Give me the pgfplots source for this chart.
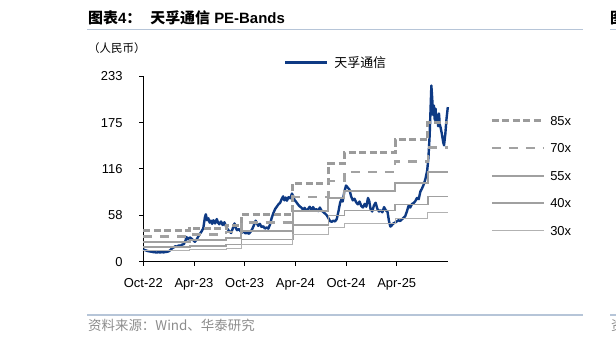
\documentclass[border=0pt]{standalone}
\usepackage{pgfplots}
\pgfplotsset{compat=1.18}
\usepackage{pgfplotstable}
\usepackage{fontspec}
\setmainfont{Liberation Sans}
\newfontfamily\cjk{Noto Sans CJK SC}
\definecolor{tfblue}{RGB}{14,58,132}
\definecolor{g85}{RGB}{155,155,155}
\definecolor{g70}{RGB}{162,162,162}
\definecolor{g55}{RGB}{160,160,160}
\definecolor{g40}{RGB}{160,160,160}
\definecolor{g30}{RGB}{178,178,178}
\definecolor{rulec}{RGB}{182,197,216}
\definecolor{srcgray}{RGB}{140,140,140}

\pgfplotstableread{
x y
0.0 15.5
0.2 14.5
0.4 13.8
0.6 13.2
0.8 12.8
1.0 12.5
1.2 12.0
1.4 11.8
1.6 11.5
1.8 11.9
2.0 11.6
2.2 12.0
2.4 11.7
2.6 12.2
2.8 12.4
3.0 13.0
3.2 14.5
3.4 16.8
3.6 18.0
3.8 19.5
4.0 18.6
4.2 20.5
4.4 19.8
4.6 21.5
4.8 22.0
5.0 26.5
5.1 31.0
5.3 28.0
5.5 30.5
5.7 29.0
5.9 27.0
6.1 25.0
6.3 27.5
6.5 31.5
6.7 35.0
6.9 38.0
7.1 42.0
7.3 56.0
7.4 59.5
7.55 52.0
7.7 54.5
7.85 49.0
8.0 51.5
8.15 47.5
8.3 52.0
8.5 48.0
8.7 53.5
8.85 49.0
9.0 47.0
9.2 50.5
9.4 46.0
9.6 49.5
9.8 44.0
10.0 40.5
10.2 38.0
10.4 36.0
10.6 42.0
10.8 48.0
10.95 42.5
11.1 39.5
11.3 41.0
11.5 38.5
11.7 36.5
11.9 38.0
12.1 35.5
12.3 36.5
12.5 35.0
12.7 37.5
12.9 41.0
13.1 46.0
13.3 51.5
13.45 48.0
13.6 45.0
13.8 47.5
14.0 43.5
14.2 44.5
14.4 41.5
14.6 43.0
14.8 41.5
15.0 46.5
15.2 55.0
15.4 61.0
15.6 66.0
15.8 69.0
16.0 72.0
16.2 74.0
16.4 79.0
16.55 82.0
16.7 77.0
16.85 80.5
17.0 76.5
17.2 81.0
17.4 79.5
17.6 85.5
17.75 82.0
17.9 77.5
18.1 75.0
18.3 72.0
18.5 69.5
18.7 68.0
18.9 65.5
19.1 67.5
19.3 64.0
19.5 66.0
19.7 69.0
19.9 65.0
20.1 68.5
20.3 64.5
20.5 66.0
20.7 63.5
20.9 68.0
21.1 64.0
21.3 62.5
21.5 60.5
21.7 58.5
21.9 55.0
22.1 51.0
22.3 50.0
22.5 51.5
22.7 50.5
22.9 53.5
23.1 63.0
23.3 74.0
23.45 78.0
23.6 75.5
23.8 88.0
24.0 95.5
24.2 93.0
24.4 90.5
24.6 82.0
24.8 77.0
25.0 79.0
25.2 74.5
25.4 72.0
25.6 75.5
25.8 70.0
26.0 68.0
26.2 72.5
26.4 69.0
26.6 80.0
26.75 76.0
26.9 66.0
27.1 63.0
27.3 70.5
27.5 74.0
27.7 66.5
27.9 63.0
28.1 64.5
28.3 62.0
28.5 68.5
28.7 64.5
28.9 63.0
29.1 50.0
29.25 44.0
29.4 45.5
29.6 48.0
29.8 49.0
30.0 50.5
30.2 52.0
30.4 51.0
30.6 53.0
30.8 55.0
31.0 57.0
31.2 63.0
31.4 70.0
31.6 68.0
31.8 72.5
32.0 73.5
32.2 76.0
32.4 80.0
32.6 78.5
32.8 88.0
33.0 92.0
33.2 97.0
33.4 104.0
33.6 114.0
33.75 130.0
33.9 159.0
34.0 190.0
34.1 221.0
34.2 205.0
34.3 184.0
34.4 196.0
34.5 178.0
34.6 192.0
34.7 175.0
34.8 184.0
34.9 170.0
35.0 186.0
35.1 172.0
35.2 168.0
35.35 160.0
35.5 150.0
35.6 146.0
35.75 160.0
35.9 180.0
36.05 194.0
}\price

% PE bands: step values (start month of each period)
\pgfplotstableread{
x b85 b70 b55 b40 b30
0.0 38.7 31.9 25.0 18.2 13.7
5.5 41.7 34.3 27.0 19.6 14.7
9.8 45.5 37.5 29.5 21.4 16.0
11.6 59.5 49.0 38.5 28.0 21.0
17.7 98.3 81.0 63.6 46.3 34.7
21.9 123.0 101.3 79.6 57.9 43.4
23.8 136.9 112.7 88.6 64.4 48.3
29.8 153.0 126.0 99.0 72.0 54.0
33.7 174.3 143.5 112.8 82.0 61.5
36.05 174.3 143.5 112.8 82.0 61.5
}\bands

\begin{document}
\begin{tikzpicture}
\useasboundingbox (0,0) rectangle (616bp,344bp);
% title
\node[anchor=base west, inner sep=0pt, font=\fontsize{15}{18}\selectfont\bfseries] at (88bp,320bp)
  {{\cjk\bfseries 图表}4{\cjk\bfseries ：}\hspace{9bp}{\cjk\bfseries 天孚通信} PE-Bands};
\node[anchor=base west, inner sep=0pt, font=\fontsize{15}{18}\selectfont] at (610bp,320bp) {\cjk\bfseries 图};
\draw[rulec, line width=1.3bp] (87bp,314.7bp) -- (583bp,314.7bp);
\draw[rulec, line width=1.3bp] (610bp,314.7bp) -- (616bp,314.7bp);
\node[anchor=base west, inner sep=0pt, font=\cjk\fontsize{11.5}{13}\selectfont] at (88bp,291.6bp) {（人民币）};
% source
\draw[rulec, line width=1.3bp] (87bp,29bp) -- (583bp,29bp);
\draw[rulec, line width=1.3bp] (610bp,29bp) -- (616bp,29bp);
\node[anchor=base west, inner sep=0pt, text=srcgray, font=\cjk\fontsize{13.5}{15}\selectfont] at (88bp,13.5bp) {资料来源：Wind、华泰研究};
\node[anchor=base west, inner sep=0pt, text=srcgray, font=\cjk\fontsize{13.5}{15}\selectfont] at (611bp,13.5bp) {资};

\begin{axis}[
  scale only axis, width=304.7bp, height=185.7bp,
  at={(143.3bp,82.3bp)}, anchor=south west,
  xmin=0, xmax=36.07, ymin=0, ymax=233,
  axis lines*=left, axis line style={black, line width=0.8bp},
  clip=false,
  tick align=outside, major tick length=4bp,
  tick style={black, line width=0.8bp},
  xtick={0,6,12,18,24,30},
  xticklabels={Oct-22,Apr-23,Oct-23,Apr-24,Oct-24,Apr-25},
  ytick={0,58.25,116.5,174.75,233},
  yticklabels={0,58,116,175,233},
  tick label style={font=\fontsize{13}{15}\selectfont},
  xticklabel style={anchor=base, inner sep=0pt, yshift=-22.1bp},
  yticklabel style={anchor=base east, inner sep=0pt, xshift=-16.6bp, yshift=-4.65bp},
  legend style={at={(rel axis cs:0.462,1.072)}, anchor=west, draw=none, fill=none,
    inner sep=0pt, font=\cjk\fontsize{13}{15}\selectfont,
    nodes={inner sep=0pt}, column sep=5.7bp},
  legend image code/.code={\draw[#1] (0bp,0bp) -- (42bp,0bp);},
]
\addplot[tfblue, line width=2.4bp, line join=round] table[x=x,y=y] {\price};
\addlegendentry{天孚通信}
\end{axis}

\begin{axis}[
  scale only axis, width=304.7bp, height=185.7bp,
  at={(143.3bp,82.3bp)}, anchor=south west,
  xmin=0, xmax=36.07, ymin=0, ymax=233,
  hide axis, clip=false,
  legend style={at={(rel axis cs:1.138,0.786)}, anchor=north west, draw=none, fill=none,
    inner sep=0pt, font=\fontsize{13}{15}\selectfont,
    nodes={inner sep=0pt, text height=9.5bp, text depth=0bp},
    row sep=18bp, column sep=5bp},
  legend cell align=left,
  legend image code/.code={\draw[#1] (0bp,0bp) -- (52bp,0bp);},
]
\addplot[g85, line width=3bp, dash pattern=on 7bp off 3.5bp, const plot mark left] table[x=x,y=b85] {\bands};
\addlegendentry{85x}
\addplot[g70, line width=2.6bp, dash pattern=on 9bp off 8bp, const plot mark left] table[x=x,y=b70] {\bands};
\addlegendentry{70x}
\addplot[g55, line width=2bp, const plot mark left] table[x=x,y=b55] {\bands};
\addlegendentry{55x}
\addplot[g40, line width=1.5bp, const plot mark left] table[x=x,y=b40] {\bands};
\addlegendentry{40x}
\addplot[g30, line width=1bp, const plot mark left] table[x=x,y=b30] {\bands};
\addlegendentry{30x}
\end{axis}
\end{tikzpicture}
\end{document}
